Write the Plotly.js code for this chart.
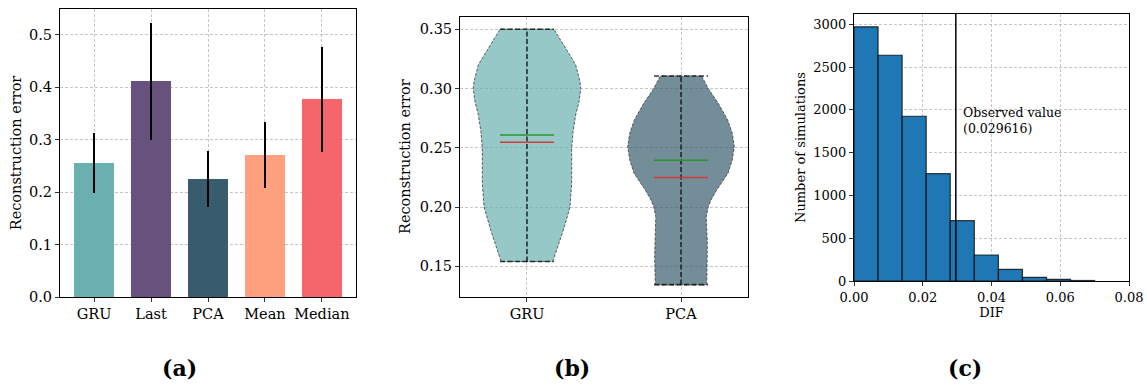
<!DOCTYPE html>
<html><head><meta charset="utf-8">
<script src="https://cdn.plot.ly/plotly-3.0.1.min.js"></script>
<style>html,body{margin:0;padding:0;background:#fff;}#chart{width:1147px;height:386px;}</style>
</head><body><div id="chart"></div>
<script>
// ---------- Panel (a): bar chart ----------
const methods = ['GRU', 'Last', 'PCA', 'Mean', 'Median'];
const meanError = [0.255, 0.411, 0.225, 0.270, 0.377];
const stdError = [0.057, 0.111, 0.053, 0.063, 0.100];
const barColors = ['#6AB0B0', '#67527E', '#375C6E', '#FFA07F', '#F4656C'];

// ---------- Panel (b): violins ----------
const violinNames = ['GRU', 'PCA'];
const gruLevels = [0.154, 0.1638, 0.1778, 0.1919, 0.200, 0.220, 0.234, 0.2496, 0.2636, 0.2777, 0.289, 0.300, 0.3058, 0.320, 0.334, 0.350];
const gruHalfWidth = [0.167, 0.193, 0.229, 0.262, 0.279, 0.290, 0.290, 0.290, 0.299, 0.316, 0.338, 0.349, 0.344, 0.316, 0.251, 0.175];
const pcaLevels = [0.1342, 0.1469, 0.1581, 0.1694, 0.1808, 0.1919, 0.2003, 0.2060, 0.2144, 0.2228, 0.2285, 0.2397, 0.2509, 0.2622, 0.2735, 0.2875, 0.300, 0.3106];
const pcaHalfWidth = [0.167, 0.169, 0.171, 0.171, 0.167, 0.164, 0.177, 0.195, 0.232, 0.275, 0.305, 0.333, 0.346, 0.333, 0.303, 0.242, 0.177, 0.134];
const violinMin = [0.154, 0.1345];
const violinMax = [0.350, 0.3105];
const violinMean = [0.2608, 0.2395];
const violinMedian = [0.2546, 0.2248];
const violinColors = ['rgba(106,176,176,0.7)', 'rgba(55,92,110,0.7)'];

// ---------- Panel (c): histogram ----------
const binEdges = [0.000, 0.007, 0.014, 0.021, 0.028, 0.035, 0.042, 0.049, 0.056, 0.063, 0.070];
const simCounts = [2970, 2638, 1925, 1254, 705, 304, 136, 43, 19, 6];
const observedValue = 0.029616;

// ---------- build ----------
const W = 1147, H = 386;
const dx = (l, r) => [l / W, r / W];
const dy = (t, b) => [(H - b) / H, (H - t) / H];
const serif = 'DejaVu Serif';
const gridStyle = {showgrid: true, gridcolor: '#b8b8b8', griddash: '3px,2px', gridwidth: 0.8, zeroline: false,
  showline: true, mirror: true, linecolor: '#000', linewidth: 1, ticks: 'outside', ticklen: 4, tickcolor: '#000', tickwidth: 0.8};

const traces = [];
// (a)
traces.push({
  type: 'bar', x: methods, y: meanError, width: 0.7,
  marker: {color: barColors, line: {width: 0}},
  error_y: {type: 'data', array: stdError, visible: true, color: '#000', thickness: 2, width: 0},
  xaxis: 'x', yaxis: 'y', showlegend: false, hoverinfo: 'x+y'
});
// (b)
const capHalf = 0.175;
[[gruLevels, gruHalfWidth], [pcaLevels, pcaHalfWidth]].forEach(([lev, hw], i) => {
  const pos = i + 1;
  const xs = [], ys = [];
  for (let k = 0; k < lev.length; k++) { xs.push(pos + hw[k]); ys.push(lev[k]); }
  for (let k = lev.length - 1; k >= 0; k--) { xs.push(pos - hw[k]); ys.push(lev[k]); }
  xs.push(xs[0]); ys.push(ys[0]);
  traces.push({type: 'scatter', mode: 'lines', x: xs, y: ys, fill: 'toself', fillcolor: violinColors[i],
    line: {color: 'rgba(70,70,70,0.85)', width: 1, dash: '3px,1.5px', shape: 'linear'},
    xaxis: 'x2', yaxis: 'y2', showlegend: false, hoverinfo: 'skip'});
  traces.push({type: 'scatter', mode: 'lines', x: [pos, pos], y: [violinMin[i], violinMax[i]],
    line: {color: 'rgba(20,20,20,0.85)', width: 1.6, dash: '5px,2.5px'}, xaxis: 'x2', yaxis: 'y2', showlegend: false});
  [violinMin[i], violinMax[i]].forEach(v => traces.push({type: 'scatter', mode: 'lines', x: [pos - capHalf, pos + capHalf], y: [v, v],
    line: {color: 'rgba(20,20,20,0.85)', width: 1.6, dash: '5px,2.5px'}, xaxis: 'x2', yaxis: 'y2', showlegend: false}));
  traces.push({type: 'scatter', mode: 'lines', x: [pos - capHalf, pos + capHalf], y: [violinMean[i], violinMean[i]],
    line: {color: '#2a962a', width: 1.5}, xaxis: 'x2', yaxis: 'y2', showlegend: false});
  traces.push({type: 'scatter', mode: 'lines', x: [pos - capHalf, pos + capHalf], y: [violinMedian[i], violinMedian[i]],
    line: {color: '#d63a3a', width: 1.5}, xaxis: 'x2', yaxis: 'y2', showlegend: false});
});
// (c)
const binLeft = binEdges.slice(0, -1);
const binWidths = binLeft.map((e, i) => binEdges[i + 1] - e);
traces.push({type: 'bar', x: binLeft, y: simCounts, width: binWidths, offset: 0,
  marker: {color: '#1f77b4', line: {color: 'rgba(0,0,0,0.75)', width: 1.2}},
  xaxis: 'x3', yaxis: 'y3', showlegend: false});

const lab = (t, x) => ({xref: 'paper', yref: 'paper', x: x / W, y: 1 - 368 / H, xanchor: 'center', yanchor: 'middle',
  showarrow: false, text: '<b>' + t + '</b>', font: {family: serif, size: 22, color: '#000'}});

const layout = {
  width: W, height: H, margin: {l: 0, r: 0, t: 0, b: 0},
  paper_bgcolor: '#fff', plot_bgcolor: '#fff', showlegend: false, bargap: 0,
  font: {family: serif, color: '#000', size: 14.5},
  xaxis: Object.assign({}, gridStyle, {domain: dx(60, 356), anchor: 'y', type: 'category', range: [-0.6, 4.6],
    tickfont: {size: 14.5}}),
  yaxis: Object.assign({}, gridStyle, {domain: dy(9, 297), anchor: 'x', range: [0, 0.549], dtick: 0.1, tickformat: '.1f',
    tickfont: {size: 14.5}, title: {text: 'Reconstruction error', font: {size: 14.5}, standoff: 3}}),
  xaxis2: Object.assign({}, gridStyle, {domain: dx(460, 748), anchor: 'y2', range: [0.565, 2.435],
    tickvals: [1, 2], ticktext: violinNames, tickfont: {size: 14.5}}),
  yaxis2: Object.assign({}, gridStyle, {domain: dy(16.7, 296.7), anchor: 'x2', range: [0.1243, 0.3606],
    tickvals: [0.15, 0.20, 0.25, 0.30, 0.35], tickformat: '.2f', tickfont: {size: 14.5},
    title: {text: 'Reconstruction error', font: {size: 14.5}, standoff: 5}}),
  xaxis3: Object.assign({}, gridStyle, {domain: dx(854, 1129), anchor: 'y3', range: [0, 0.08], dtick: 0.02, tickformat: '.2f',
    tickfont: {size: 13}, title: {text: 'DIF', font: {size: 13}, standoff: 4}}),
  yaxis3: Object.assign({}, gridStyle, {domain: dy(14, 281), anchor: 'x3', range: [0, 3120], dtick: 500,
    tickfont: {size: 13}, title: {text: 'Number of simulations', font: {size: 13}, standoff: 4}}),
  shapes: [{type: 'line', xref: 'x3', yref: 'y3 domain', x0: observedValue, x1: observedValue, y0: 0, y1: 1,
    line: {color: '#000', width: 1.5}}],
  annotations: [
    {xref: 'x3', yref: 'y3', x: observedValue + 0.0015, y: 1881, xanchor: 'left', yanchor: 'middle', align: 'left',
      showarrow: false, text: 'Observed value<br>(' + observedValue.toFixed(6) + ')', font: {family: serif, size: 12.5, color: '#000'}},
    lab('(a)', 179.5), lab('(b)', 572), lab('(c)', 965)
  ]
};
Plotly.newPlot('chart', traces, layout, {staticPlot: true, displayModeBar: false});
</script>
</body></html>
